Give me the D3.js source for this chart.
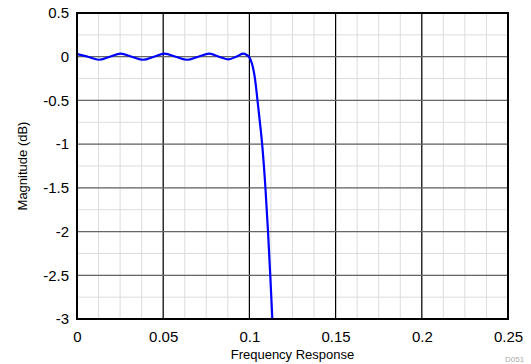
<!DOCTYPE html>
<html><head><meta charset="utf-8">
<script src="https://cdn.jsdelivr.net/npm/d3@7"></script>
<style>body{margin:0;background:#fff}svg{display:block;font-family:"Liberation Sans",Arial,sans-serif}</style>
</head><body><svg id="c" width="531" height="364"></svg>
<script>
const freq = [0, 0.0063, 0.0127, 0.019, 0.0253, 0.0318, 0.0384, 0.0446, 0.0508, 0.0573, 0.0639, 0.0703, 0.0768, 0.0824, 0.088, 0.0923, 0.0963, 0.0985, 0.1001, 0.1015, 0.103, 0.1047, 0.1062, 0.1074, 0.1093, 0.1108, 0.1121, 0.1133];
const magDb = [0.03, 0, -0.035, 0, 0.035, 0, -0.035, 0, 0.035, 0, -0.035, 0, 0.035, 0, -0.03, 0, 0.035, 0.02, -0.01, -0.08, -0.22, -0.5, -0.77, -1.0, -1.5, -2.0, -2.5, -3.0];
const xTicks = [0, 0.05, 0.1, 0.15, 0.2, 0.25];
const yTicks = [0.5, 0, -0.5, -1, -1.5, -2, -2.5, -3];
const xLabel = "Frequency Response";
const yLabel = "Magnitude (dB)";
const tag = "D051";

const svg = d3.select("#c");
const m = {l: 77, r: 508, t: 13, b: 319};
const x = d3.scaleLinear().domain([0, 0.25]).range([m.l, m.r]);
const y = d3.scaleLinear().domain([-3, 0.5]).range([m.b, m.t]);

const g = svg.append("g");
const xMinor = d3.range(0, 0.2501, 0.0125);
const yMinor = d3.range(-3, 0.501, 0.25);
g.selectAll(".xm").data(xMinor).join("line")
  .attr("x1", d => x(d)).attr("x2", d => x(d)).attr("y1", m.t).attr("y2", m.b)
  .attr("stroke", "#dcdcdc").attr("stroke-width", 1);
g.selectAll(".ym").data(yMinor).join("line")
  .attr("y1", d => y(d)).attr("y2", d => y(d)).attr("x1", m.l).attr("x2", m.r)
  .attr("stroke", "#dcdcdc").attr("stroke-width", 1);
g.selectAll(".xM").data(xTicks).join("line")
  .attr("x1", d => x(d)).attr("x2", d => x(d)).attr("y1", m.t).attr("y2", m.b)
  .attr("stroke", "#000").attr("stroke-width", 1.2);
g.selectAll(".yM").data(yTicks).join("line")
  .attr("y1", d => y(d)).attr("y2", d => y(d)).attr("x1", m.l).attr("x2", m.r)
  .attr("stroke", "#666").attr("stroke-width", 1.2);

svg.append("clipPath").attr("id", "pc").append("rect")
  .attr("x", m.l).attr("y", m.t).attr("width", m.r - m.l).attr("height", m.b - m.t);
const line = d3.line().x((d, i) => x(freq[i])).y(d => y(d)).curve(d3.curveCatmullRom.alpha(0.5));
svg.append("path").datum(magDb).attr("d", line).attr("fill", "none")
  .attr("stroke", "#0000ff").attr("stroke-width", 2.2).attr("clip-path", "url(#pc)");

svg.append("rect").attr("x", m.l).attr("y", m.t).attr("width", m.r - m.l).attr("height", m.b - m.t)
  .attr("fill", "none").attr("stroke", "#000").attr("stroke-width", 2);

const xa = svg.append("g").attr("transform", `translate(0,${m.b})`)
  .call(d3.axisBottom(x).tickValues(xTicks).tickSize(0).tickFormat(d => String(d)));
xa.selectAll("text").attr("y", 23).attr("dy", "0");
const ya = svg.append("g").attr("transform", `translate(${m.l},0)`)
  .call(d3.axisLeft(y).tickValues(yTicks).tickSize(0).tickPadding(8).tickFormat(d => String(d)));
[xa, ya].forEach(a => {
  a.select(".domain").remove();
  a.selectAll("text").attr("font-size", 15).attr("fill", "#000").attr("font-family", '"Liberation Sans",Arial,sans-serif');
});

svg.append("text").attr("x", (m.l + m.r) / 2).attr("y", 359).attr("text-anchor", "middle")
  .attr("font-size", 13).text(xLabel);
svg.append("text").attr("transform", `translate(27,${(m.t + m.b) / 2}) rotate(-90)`)
  .attr("text-anchor", "middle").attr("font-size", 13).text(yLabel);
svg.append("text").attr("x", 505).attr("y", 362).attr("font-size", 8).attr("fill", "#aaa").text(tag);
</script></body></html>
